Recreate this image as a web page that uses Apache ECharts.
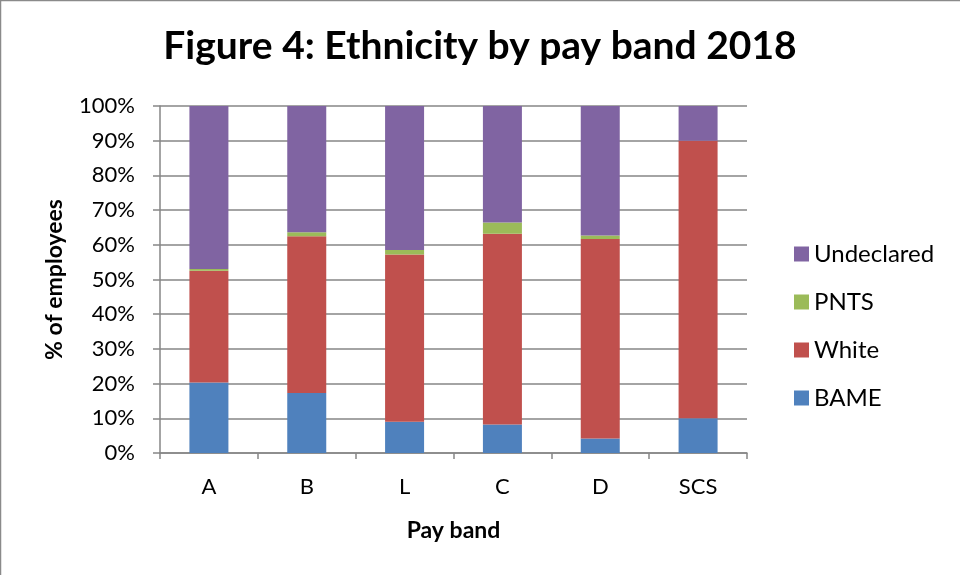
<!DOCTYPE html>
<html><head><meta charset="utf-8">
<script src="https://cdn.jsdelivr.net/npm/echarts@6/dist/echarts.min.js"></script>
<style>html,body{margin:0;padding:0;background:#fff}#c{width:960px;height:575px}</style>
</head><body><div id="c"></div>
<script>
var categories = ['A','B','L','C','D','SCS'];
var bame = [20.3, 17.3, 9.0, 8.2, 4.2, 10.0];
var white = [32.2, 45.2, 48.2, 55.0, 57.5, 80.0];
var pnts = [0.5, 1.15, 1.3, 3.2, 1.0, 0.0];
var undeclared = [47.0, 36.35, 41.5, 33.6, 37.3, 10.0];
var legendOrder = ['Undeclared','PNTS','White','BAME'];

var font = 'Lato, "Open Sans", sans-serif';
var chart = echarts.init(document.getElementById('c'));
function s(name, data, color){
  return {name:name, type:'bar', stack:'t', data:data, barWidth:39,
    itemStyle:{color:color}, emphasis:{disabled:true}};
}
chart.setOption({
  animation:false,
  graphic:[{type:'rect', shape:{x:0.5,y:0.5,width:980,height:600}, style:{fill:'none', stroke:'#8a8a8a', lineWidth:1.5}}],
  title:{text:'Figure 4: Ethnicity by pay band 2018', left:'center', top:22,
    textStyle:{fontFamily:font, fontWeight:'bold', fontSize:39, color:'#000'}},
  legend:{data:legendOrder, orient:'vertical', left:789, top:237, itemGap:24, itemWidth:15, itemHeight:15,
    icon:'rect', textStyle:{fontFamily:font, fontSize:24, lineHeight:24, color:'#000'}},
  grid:{left:160, right:213, top:106, bottom:122, containLabel:false},
  xAxis:{type:'category', data:categories, name:'Pay band', nameLocation:'middle', nameGap:66,
    nameTextStyle:{fontFamily:font, fontWeight:'bold', fontSize:23, color:'#000'},
    axisLine:{lineStyle:{color:'#868686', width:1.5}},
    axisTick:{show:true, length:6, lineStyle:{color:'#868686', width:1.5}},
    axisLabel:{fontFamily:font, fontSize:22, color:'#000', margin:23}},
  yAxis:{type:'value', min:0, max:100, interval:10, name:'% of employees', nameLocation:'middle', nameGap:94,
    nameTextStyle:{fontFamily:font, fontWeight:'bold', fontSize:23, color:'#000'},
    axisLine:{show:true, lineStyle:{color:'#868686', width:1.5}},
    axisTick:{show:true, length:7, lineStyle:{color:'#868686', width:1.5}},
    splitLine:{lineStyle:{color:'#868686', width:1.5}},
    axisLabel:{fontFamily:font, fontSize:22, color:'#000', margin:25, formatter:'{value}%'}},
  series:[
    s('BAME', bame, '#4F81BD'),
    s('White', white, '#C0504D'),
    s('PNTS', pnts, '#9BBB59'),
    s('Undeclared', undeclared, '#8064A2')
  ]
});
</script></body></html>
